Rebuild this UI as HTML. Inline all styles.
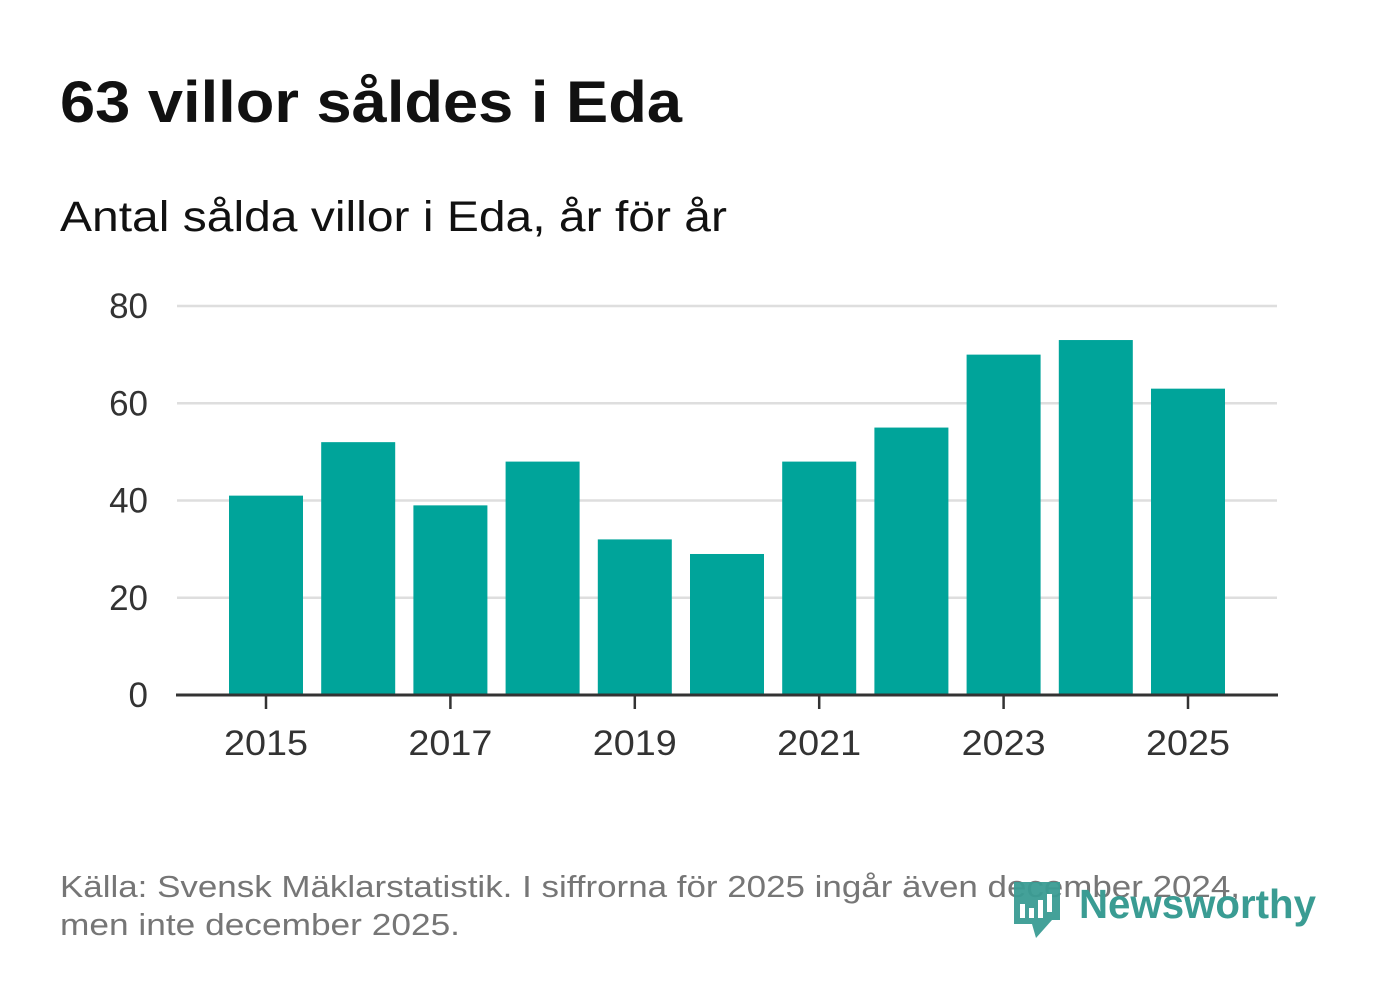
<!DOCTYPE html>
<html><head><meta charset="utf-8"><style>
body{margin:0;background:#fff;}
svg{display:block;font-family:"Liberation Sans",sans-serif;}
</style></head><body>
<svg id="c" width="1382" height="999">
<rect width="1382" height="999" fill="#fff"/>
<text x="60" y="122" font-size="58" font-weight="bold" fill="#111" textLength="622" lengthAdjust="spacingAndGlyphs">63 villor såldes i Eda</text>
<text x="60" y="231" font-size="43" fill="#111" textLength="667" lengthAdjust="spacingAndGlyphs">Antal sålda villor i Eda, år för år</text>
<g id="grid"></g><g id="bars"></g><g id="axes"></g>
<text x="60" y="897" font-size="31" fill="#767676" textLength="1180" lengthAdjust="spacingAndGlyphs">Källa: Svensk Mäklarstatistik. I siffrorna för 2025 ingår även december 2024,</text>
<text x="60" y="935" font-size="31" fill="#767676" textLength="400" lengthAdjust="spacingAndGlyphs">men inte december 2025.</text>
<g>
<path d="M1014 882 H1060 V920 H1052 L1036 938 L1032 924 H1014 Z" fill="#3a9c93" opacity="0.95"/>
<rect x="1020" y="904" width="5" height="14" fill="#fff"/><rect x="1029" y="908" width="5" height="10" fill="#fff"/><rect x="1038" y="900" width="5" height="18" fill="#fff"/><rect x="1047" y="894" width="5" height="18" fill="#fff"/>
<text x="1079" y="918" font-size="41" font-weight="bold" fill="#3a9c93" textLength="237" lengthAdjust="spacingAndGlyphs">Newsworthy</text>
</g>
</svg>
<script>
const years=[2015,2016,2017,2018,2019,2020,2021,2022,2023,2024,2025];
const values=[41,52,39,48,32,29,48,55,70,73,63];
const yTicks=[0,20,40,60,80];
const ns="http://www.w3.org/2000/svg";
const y0=695,pxPer=(695-306)/80;
const yS=v=>y0-v*pxPer;
const xS=i=>266+i*92.2;
const bw=74;
function mk(t,a,p){const e=document.createElementNS(ns,t);for(const k in a)e.setAttribute(k,a[k]);p.appendChild(e);return e;}
const grid=document.getElementById('grid'),bars=document.getElementById('bars'),axes=document.getElementById('axes');
yTicks.forEach(v=>{
 if(v>0){const l=mk('line',{x1:177,x2:1277,y1:yS(v),y2:yS(v),stroke:'#dedede','stroke-width':2.5},grid);
 
 }
 const t=mk('text',{x:148,y:yS(v)+12,'font-size':35,fill:'#333','text-anchor':'end'},axes);t.textContent=v;
 
 
});
values.forEach((v,i)=>{
 const r=mk('rect',{x:xS(i)-bw/2,y:yS(v),width:bw,height:yS(0)-yS(v),fill:'#00a49a'},bars);
 
 
 if(i%2===0){
  mk('line',{x1:xS(i),x2:xS(i),y1:y0,y2:y0+14,stroke:'#333','stroke-width':2.5},axes);
  const t=mk('text',{x:xS(i),y:755,'font-size':35,fill:'#333','text-anchor':'middle',textLength:84,lengthAdjust:'spacingAndGlyphs'},axes);t.textContent=years[i];
  
  
 }
});
const ax=mk('line',{x1:176,x2:1278,y1:y0,y2:y0,stroke:'#333','stroke-width':3},axes);


</script>
</body></html>
